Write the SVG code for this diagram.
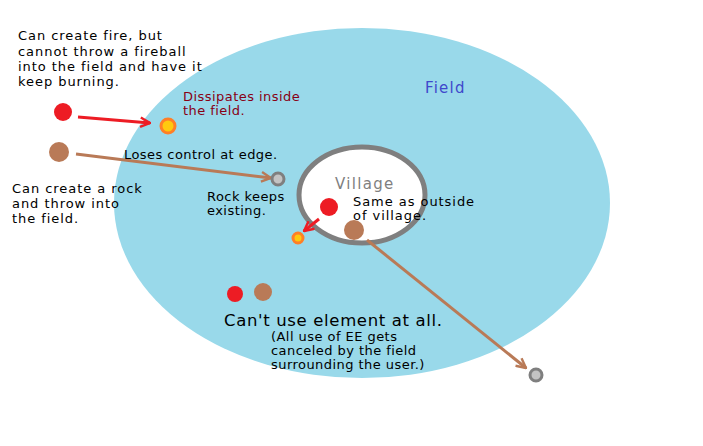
<svg xmlns="http://www.w3.org/2000/svg" width="703" height="446" viewBox="0 0 703 446">
<style>
text{font-family:"DejaVu Sans","Noto Sans",sans-serif;fill:#000;font-size:13px}
.big{letter-spacing:0.95px}
.sm{letter-spacing:0.45px}
.red{fill:#ed1c24}
.brown{fill:#b97a57}
.fire{fill:#ffc90e;stroke:#ff7f27;stroke-width:3}
.rock{fill:#c3c3c3;stroke:#7f7f7f;stroke-width:3}
.ar{stroke:#ed1c24;stroke-width:3;fill:none}
.ab{stroke:#b97a57;stroke-width:3;fill:none}
</style>
<defs>
<marker id="mr" viewBox="0 0 10 10" refX="9" refY="5" markerWidth="4" markerHeight="4" orient="auto" markerUnits="strokeWidth"><path d="M1,1 L9,5 L1,9" fill="none" stroke="#ed1c24" stroke-width="2"/></marker>
<marker id="mb" viewBox="0 0 10 10" refX="9" refY="5" markerWidth="4" markerHeight="4" orient="auto" markerUnits="strokeWidth"><path d="M1,1 L9,5 L1,9" fill="none" stroke="#b97a57" stroke-width="2"/></marker>
</defs>
<rect width="703" height="446" fill="#fff"/>
<g id="field"><ellipse cx="362" cy="203" rx="248" ry="175" fill="#99d9ea"/>
<text x="425" y="93" style="font-size:15px;letter-spacing:1.2px;fill:#3f48cc">Field</text></g>
<g id="village"><ellipse cx="362" cy="195" rx="63" ry="48" fill="#fff" stroke="#7f7f7f" stroke-width="5"/>
<text x="335" y="189" style="font-size:15px;letter-spacing:1.3px;fill:#7f7f7f">Village</text></g>
<g id="connectors">
<line class="ar" x1="78" y1="117" x2="150" y2="123" marker-end="url(#mr)"/>
<line class="ab" x1="76" y1="154" x2="271" y2="178" marker-end="url(#mb)"/>
<line class="ar" x1="319" y1="219" x2="304" y2="231" marker-end="url(#mr)"/>
<line class="ab" x1="367" y1="240" x2="526" y2="368" marker-end="url(#mb)"/>
</g>
<g id="fire-outside"><circle class="red" cx="63" cy="112" r="9"/>
<text class="big" x="18" y="40">Can create fire, but</text><text class="big" x="18" y="56">cannot throw a fireball</text><text class="big" x="18" y="71">into the field and have it</text><text class="big" x="18" y="86">keep burning.</text></g>
<g id="fireball"><circle class="fire" cx="168" cy="126" r="7"/>
<text class="sm" x="183" y="101" style="fill:#880015">Dissipates inside</text><text class="sm" x="183" y="115" style="fill:#880015">the field.</text></g>
<g id="rock-outside"><circle class="brown" cx="59" cy="152" r="10"/>
<text class="big" x="12" y="193">Can create a rock</text><text class="big" x="12" y="208">and throw into</text><text class="big" x="12" y="223">the field.</text></g>
<g id="rock-edge"><circle class="rock" cx="278" cy="179" r="6"/>
<text class="sm" x="124" y="159">Loses control at edge.</text>
<text class="sm" x="207" y="201">Rock keeps</text><text class="sm" x="207" y="215">existing.</text></g>
<g id="village-fire"><circle class="red" cx="329" cy="207" r="9"/></g>
<g id="village-rock"><circle class="brown" cx="354" cy="230" r="10"/>
<text class="big" x="353" y="206">Same as outside</text><text class="big" x="353" y="220">of village.</text></g>
<g id="village-fireball"><circle class="fire" cx="298" cy="238" r="5"/></g>
<g id="far-rock"><circle class="rock" cx="536" cy="375" r="6"/></g>
<g id="field-user"><circle class="red" cx="235" cy="294" r="8"/><circle class="brown" cx="263" cy="292" r="9"/>
<text x="224" y="326" style="font-size:16.5px;letter-spacing:0.65px">Can't use element at all.</text>
<text class="sm" x="271" y="341">(All use of EE gets</text><text class="sm" x="271" y="355">canceled by the field</text><text class="sm" x="271" y="369">surrounding the user.)</text></g>
</svg>
